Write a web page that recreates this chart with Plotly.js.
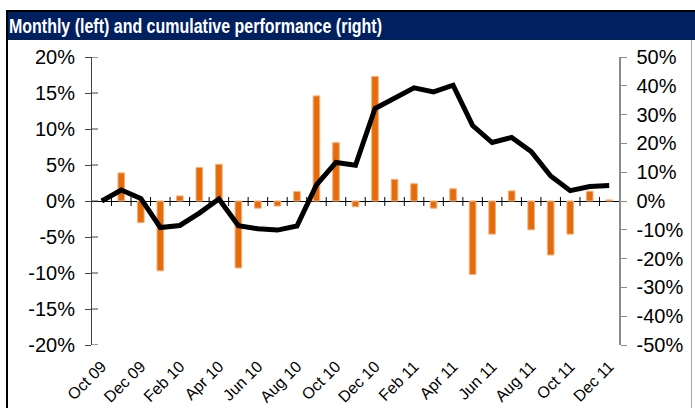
<!DOCTYPE html>
<html>
<head>
<meta charset="utf-8">
<script src="https://cdn.plot.ly/plotly-3.0.1.min.js"></script>
<style>
  html, body { margin: 0; padding: 0; background: #ffffff; }
  #wrap { position: relative; width: 695px; height: 408px; overflow: hidden; background: #ffffff; }
  .frame { position: absolute; }
  #topline { left: 6px; top: 10px; width: 689px; height: 2px; background: #000000; }
  #leftline { left: 6px; top: 10px; width: 2px; height: 398px; background: #000000; }
  #band { left: 8px; top: 12px; width: 687px; height: 28px; background: #002060; }
  #rightline { left: 691px; top: 40px; width: 1px; height: 368px; background: #a6a6a6; }
  #chart { position: absolute; left: 0; top: 0; width: 695px; height: 408px; }
</style>
</head>
<body>
<div id="wrap">
  <div class="frame" id="topline"></div>
  <div class="frame" id="leftline"></div>
  <div class="frame" id="band"></div>
  <div class="frame" id="rightline"></div>
  <div id="chart"></div>
</div>
<script>
// ---- data ----
const chartTitle = 'Monthly (left) and cumulative performance (right)';
const months = ['Oct 09','Nov 09','Dec 09','Jan 10','Feb 10','Mar 10','Apr 10','May 10','Jun 10','Jul 10','Aug 10','Sep 10','Oct 10','Nov 10','Dec 10','Jan 11','Feb 11','Mar 11','Apr 11','May 11','Jun 11','Jul 11','Aug 11','Sep 11','Oct 11','Nov 11','Dec 11'];
const monthlyPct = [null, 3.9, -3.0, -9.7, 0.7, 4.65, 5.1, -9.3, -1.0, -0.7, 1.3, 14.6, 8.1, -0.8, 17.3, 3.0, 2.4, -1.0, 1.7, -10.2, -4.6, 1.4, -4.0, -7.5, -4.6, 1.35, 0.15];
const cumulativePct = [0, 3.8, 0.9, -9.2, -8.5, -4.2, 0.7, -8.6, -9.65, -10.1, -8.7, 5.6, 13.4, 12.4, 32.1, 35.8, 39.3, 37.9, 40.2, 26.2, 20.3, 22.1, 17.2, 8.7, 3.6, 5.0, 5.35];
const leftTicks = [-20, -15, -10, -5, 0, 5, 10, 15, 20];
const rightTicks = [-50, -40, -30, -20, -10, 0, 10, 20, 30, 40, 50];

// ---- derived ----
const idx = months.map((m, i) => i);
const labelIdx = idx.filter(i => i % 2 === 0);
const labelText = labelIdx.map(i => months[i]);
const pct = v => v + '%';

const bars = {
  type: 'bar', x: idx, y: monthlyPct, xaxis: 'x', yaxis: 'y',
  width: 0.34,
  marker: { color: '#E46C0A', line: { color: '#F6B07C', width: 1 } },
  hoverinfo: 'skip', showlegend: false
};
const line = {
  type: 'scatter', mode: 'lines', x: idx, y: cumulativePct, xaxis: 'x', yaxis: 'y2',
  line: { color: '#000000', width: 5 },
  hoverinfo: 'skip', showlegend: false
};

const shapes = [];
// category-boundary tick marks crossing the zero line
for (let i = 0; i < months.length - 1; i++) {
  shapes.push({ type: 'line', xref: 'x', yref: 'y', ysizemode: 'pixel', yanchor: 0,
    x0: i + 0.5, x1: i + 0.5, y0: -5, y1: 4, line: { color: '#000000', width: 1 } });
}
// inner half of the left-axis cross ticks
leftTicks.forEach(v => {
  shapes.push({ type: 'line', xref: 'x', yref: 'y', xsizemode: 'pixel', xanchor: -0.5,
    x0: 0, x1: 6, y0: v, y1: v, line: { color: '#404040', width: 1 } });
});

const layout = {
  width: 695, height: 408,
  margin: { l: 92, r: 76, t: 57, b: 63 },
  paper_bgcolor: 'rgba(0,0,0,0)', plot_bgcolor: 'rgba(0,0,0,0)',
  font: { family: 'Liberation Sans, Arial, sans-serif', color: '#000000' },
  title: {
    text: chartTitle,
    font: { family: 'Liberation Sans, Arial, sans-serif', size: 21, weight: 'bold', color: '#ffffff' },
    xref: 'container', yref: 'container', x: 9 / 695, xanchor: 'left', y: 1 - 26 / 408, yanchor: 'middle'
  },
  bargap: 0,
  xaxis: {
    type: 'linear', range: [-0.5, months.length - 0.5],
    tickmode: 'array', tickvals: labelIdx, ticktext: labelText,
    tickangle: -45, tickfont: { size: 16 }, ticks: '', ticklabelstandoff: 8,
    showline: false, showgrid: false, zeroline: false, fixedrange: true
  },
  yaxis: {
    range: [-20, 20], tickmode: 'array', tickvals: leftTicks, ticktext: leftTicks.map(pct),
    tickfont: { size: 20 }, ticks: 'outside', ticklen: 6, tickcolor: '#404040', tickwidth: 1,
    showline: true, linecolor: '#404040', linewidth: 1, showgrid: false,
    zeroline: true, zerolinecolor: '#000000', zerolinewidth: 1,
    ticklabelstandoff: 6, fixedrange: true
  },
  yaxis2: {
    overlaying: 'y', side: 'right', anchor: 'x',
    range: [-50, 50], tickmode: 'array', tickvals: rightTicks, ticktext: rightTicks.map(pct),
    tickfont: { size: 20 }, ticks: 'outside', ticklen: 6, tickcolor: '#8c8c8c', tickwidth: 1,
    showline: true, linecolor: '#8c8c8c', linewidth: 1.5, showgrid: false, zeroline: false,
    ticklabelstandoff: 6, fixedrange: true
  },
  shapes: shapes
};

Plotly.newPlot('chart', [bars, line], layout, { displayModeBar: false, staticPlot: true }).then(gd => {
  // the reference title is set in a condensed face: compress the real text to the same width
  const t = gd.querySelector('.gtitle');
  if (t) {
    t.setAttribute('textLength', '373');
    t.setAttribute('lengthAdjust', 'spacingAndGlyphs');
  }
});
</script>
</body>
</html>
